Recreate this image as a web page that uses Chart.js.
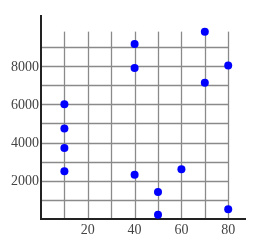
<!DOCTYPE html>
<html>
<head>
<meta charset="utf-8">
<script src="https://cdn.jsdelivr.net/npm/chart.js@4/dist/chart.umd.min.js"></script>
<style>
  html, body { margin: 0; padding: 0; background: #fff; }
  #wrap { width: 262px; height: 245px; }
</style>
</head>
<body>
<div id="wrap"><canvas id="plot" width="262" height="245"></canvas></div>
<script>
// --- data ---
const xValues = [10, 10, 10, 10, 40, 40, 40, 50, 50, 60, 70, 70, 80, 80];
const yValues = [6000, 4730, 3720, 2500, 9150, 7900, 2320, 1410, 220, 2600, 9800, 7120, 8030, 510];

const xTickLabels = [20, 40, 60, 80];
const yTickLabels = [2000, 4000, 6000, 8000];
const xGridValues = [10, 20, 30, 40, 50, 60, 70, 80];
const yGridValues = [1000, 2000, 3000, 4000, 5000, 6000, 7000, 8000, 9000];

const points = xValues.map((x, i) => ({ x: x, y: yValues[i] }));

// grid + axes + tick labels drawn through the chart scales
const gridPlugin = {
    id: 'mathGrid',
    beforeDatasetsDraw(chart) {
        const c = chart.ctx;
        const xs = chart.scales.x, ys = chart.scales.y;
        const x0 = xs.getPixelForValue(0), y0 = ys.getPixelForValue(0);
        const gridRight = xs.getPixelForValue(80);
        const gridTop = ys.getPixelForValue(9800);
        c.save();
        c.strokeStyle = '#8a8a8a';
        c.lineWidth = 1.3;
        xGridValues.forEach(v => {
            const px = Math.round(xs.getPixelForValue(v)) + 0.5;
            c.beginPath(); c.moveTo(px, gridTop); c.lineTo(px, y0); c.stroke();
        });
        yGridValues.forEach(v => {
            const py = Math.round(ys.getPixelForValue(v)) + 0.5;
            c.beginPath(); c.moveTo(x0, py); c.lineTo(gridRight, py); c.stroke();
        });
        // axes
        c.strokeStyle = '#222';
        c.lineWidth = 2;
        c.beginPath(); c.moveTo(x0, ys.getPixelForValue(ys.max)); c.lineTo(x0, y0 + 1); c.stroke();
        c.beginPath(); c.moveTo(x0 - 1, y0); c.lineTo(xs.getPixelForValue(xs.max), y0); c.stroke();
        // tick labels
        c.fillStyle = '#444';
        c.font = '14px "Liberation Serif", "DejaVu Serif", serif';
        c.textAlign = 'right'; c.textBaseline = 'middle';
        yTickLabels.forEach(v => c.fillText(String(v), x0 - 2, ys.getPixelForValue(v) + 1));
        c.textAlign = 'center'; c.textBaseline = 'top';
        xTickLabels.forEach(v => c.fillText(String(v), xs.getPixelForValue(v), y0 + 4));
        c.restore();
    }
};

const ctx = document.getElementById('plot').getContext('2d');
const chart = new Chart(ctx, {
    type: 'scatter',
    data: {
        datasets: [{
            data: points,
            backgroundColor: '#0000ff',
            borderColor: '#0000ff',
            pointRadius: 4,
            pointHoverRadius: 4
        }]
    },
    options: {
        responsive: false,
        animation: false,
        layout: { padding: { left: 41, right: 16, top: 15, bottom: 26 } },
        plugins: { legend: { display: false }, tooltip: { enabled: false } },
        scales: {
            x: { type: 'linear', min: 0, max: 87.6, display: false },
            y: { type: 'linear', min: 0, max: 10670, display: false }
        },
        elements: { point: { borderWidth: 0 } },
        clip: false
    },
    plugins: [gridPlugin]
});
</script>
</body>
</html>
